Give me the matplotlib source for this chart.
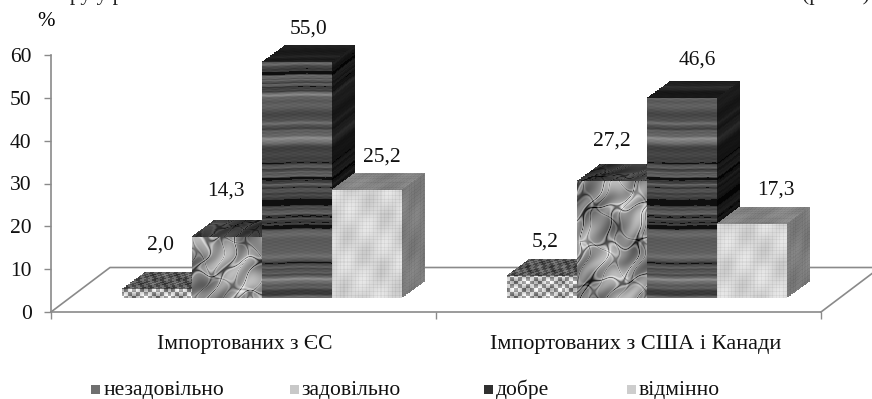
import numpy as np
import matplotlib
matplotlib.use('Agg')
import matplotlib.pyplot as plt
from matplotlib.patches import Rectangle

plt.rcParams['font.family'] = ['Liberation Serif', 'DejaVu Serif']

categories = ['Імпортованих з ЄС', 'Імпортованих з США і Канади']
grades = ['незадовільно', 'задовільно', 'добре', 'відмінно']
eu_values = [2.0, 14.3, 55.0, 25.2]
usa_values = [5.2, 27.2, 46.6, 17.3]
y_ticks = [0, 10, 20, 30, 40, 50, 60]
swatch_colors = ['#6f6f6f', '#c8c8c8', '#303030', '#cdcdcd']

# label offsets from the top back edge of each bar, in pixels
eu_label_off = [(-8, 27), (-12, 29), (0, 16), (4, 16)]
usa_label_off = [(-8, 17), (-11, 23), (4, 21), (13, 17)]
legend_swatch_x = [91, 290, 484, 627]
legend_text_x = [104, 301, 496, 639]

W, H = 872, 399
X0, X1, Y0, Y60 = 51, 821, 312, 55
XPX = (X1 - X0) / 2.0
YPX = (Y0 - Y60) / 60.0
GRAY = '#8a8a8a'

BAR_W = 70 / XPX
DX, DY = 23 / XPX, 17 / YPX        # depth of a bar
BASE = 14 / YPX                    # front edge of the bars above the floor edge
FLOOR_DX, FLOOR_DY = 59 / XPX, 44.5 / YPX


def wave(a, f, p=0.0):
    return np.sin(a * f + p)


def wood(x, y, shade=1.0):
    r = y + 0.5 * wave(x, 0.04) + 0.3 * wave(x, 0.11, 1.0)
    r = r + 9 * wave(r, 0.053) + 4 * wave(r, 0.137, 0.9)
    v = (wave(r, 0.23) + 0.9 * wave(r, 0.41, 1.3) + 0.7 * wave(r, 0.79, 0.4) + 0.3 * wave(r, 1.7, 2.0))
    v = 0.31 + 0.07 * v + 0.06 * wave(y, 0.037, 1.0) + 0.02 * wave(x, 0.5) * wave(y, 1.9)
    v = np.where(v < 0.2, 0.06, v)
    return np.clip(v * shade, 0, 1)


def crumple(x, y, shade=1.0):
    u = x + 5 * wave(y, 0.08, 0.7) + 2 * wave(y, 0.21)
    t = y + 5 * wave(x, 0.10, 1.9) + 2 * wave(x, 0.25, 0.5)
    f = np.abs(wave(u + 0.5 * t, 0.09) + wave(u - t, 0.13, 1.1))
    g = np.abs(wave(0.6 * u - t, 0.11, 2.1) + wave(u + 0.2 * t, 0.17, 0.3))
    v = 0.55 + 0.1 * wave(u + t, 0.07) + 0.09 * wave(u - t, 0.19)
    v = v - 0.3 * np.exp(-(f / 0.07) ** 2) + 0.14 * np.exp(-((f - 0.2) / 0.12) ** 2)
    v = v - 0.16 * np.exp(-(g / 0.06) ** 2) + 0.08 * np.exp(-((g - 0.18) / 0.1) ** 2)
    return np.clip(v * shade, 0, 1)


def canvas(x, y, shade=1.0):
    v = 0.85 - 0.04 * (wave(x, 1.7) > 0.6) - 0.04 * (wave(y, 1.7) > 0.6)
    v = v + 0.03 * wave(x + y, 0.11) + 0.025 * wave(x - 0.6 * y, 0.23, 1.0)
    return np.clip(v * shade, 0, 1)


def weave(x, y, shade=1.0):
    v = 0.68 + 0.16 * np.sign(wave(x, 0.8)) * np.sign(wave(y, 0.8, 0.6)) + 0.16 * wave(x, 0.27) * wave(y, 0.43)
    return np.clip(v * shade, 0, 1)


textures = [weave, crumple, wood, canvas]
top_shade = [0.5, 0.4, 0.35, 0.62]
side_shade = [0.55, 0.55, 0.3, 0.58]


def face(ax, tex, shade, origin, ex, ey, z):
    # one textured parallelogram, spanned by ex and ey from origin
    nx = max(2, int(round(np.hypot(ex[0] * XPX, ex[1] * YPX))))
    ny = max(2, int(round(np.hypot(ey[0] * XPX, ey[1] * YPX))))
    s, t = np.meshgrid(np.linspace(0, 1, nx + 1), np.linspace(0, 1, ny + 1))
    xx = origin[0] + s * ex[0] + t * ey[0]
    yy = origin[1] + s * ex[1] + t * ey[1]
    px, py = np.meshgrid(np.arange(nx) + origin[0] * 97, np.arange(ny) + origin[1] * 3)
    ax.pcolormesh(xx, yy, tex(px, py, shade), cmap='gray', vmin=0, vmax=1,
                  shading='flat', antialiased=False, linewidth=0, zorder=z, clip_on=False)


def bar3d(ax, x, value, i, z):
    tex = textures[i]
    face(ax, tex, 1.0, (x, BASE), (BAR_W, 0), (0, value), z)
    face(ax, tex, top_shade[i], (x, BASE + value), (BAR_W, 0), (DX, DY), z)
    face(ax, tex, side_shade[i], (x + BAR_W, BASE), (DX, DY), (0, value), z)


fig = plt.figure(figsize=(W / 100, H / 100), dpi=100)
ax = fig.add_axes([X0 / W, (H - Y0) / H, (X1 - X0) / W, (Y0 - Y60) / H])
ax.set_xlim(0, 2)
ax.set_ylim(0, 60)

# floor of the chart, it runs off the right edge
back = FLOOR_DY
ax.plot([0, FLOOR_DX, 2 + FLOOR_DX, 2], [0, back, back, 0], color=GRAY, lw=1.2,
        clip_on=False, zorder=0.5)

# bars
group_start = [(121.7 - X0) / XPX, 1 + (506.7 - 436) / XPX]
for g, values in enumerate([eu_values, usa_values]):
    offs = [eu_label_off, usa_label_off][g]
    for i, v in enumerate(values):
        x = group_start[g] + i * BAR_W
        bar3d(ax, x, v, i, 2 + g * 10 + i)
        ax.annotate(f'{v:.1f}'.replace('.', ','), (x + (BAR_W + DX) / 2, BASE + v + DY),
                    xytext=(offs[i][0] * 0.72, offs[i][1] * 0.72), textcoords='offset points',
                    ha='center', va='center', fontsize=15.5, color='#111111',
                    annotation_clip=False, zorder=40)

for name in ['top', 'right']:
    ax.spines[name].set_visible(False)
for name in ['left', 'bottom']:
    ax.spines[name].set_color(GRAY)
    ax.spines[name].set_linewidth(1.2)
ax.patch.set_alpha(0)

ax.set_yticks(y_ticks)
ax.set_xticks([0, 1, 2])
ax.set_xticklabels([])
ax.tick_params(axis='both', length=5, width=1.0, color=GRAY)
ax.tick_params(axis='y', labelsize=15.5, pad=9, labelcolor='#111111')

# category labels sit under each group
ax.annotate(categories[0], (0.5, 0), xytext=(1 * 0.72, -33 * 0.72), textcoords='offset points',
            ha='center', va='center', fontsize=15.5, color='#111111', annotation_clip=False)
ax.annotate(categories[1], (1.5, 0), xytext=(7 * 0.72, -33 * 0.72), textcoords='offset points',
            ha='center', va='center', fontsize=16, color='#111111', annotation_clip=False)

ax.annotate('%', (0, 60), xytext=(-5 * 0.72, 34 * 0.72), textcoords='offset points',
            ha='center', va='center', fontsize=15, annotation_clip=False)

# legend row along the bottom
for sx, tx, c, name in zip(legend_swatch_x, legend_text_x, swatch_colors, grades):
    fig.add_artist(Rectangle((sx / W, 1 - 394 / H), 9 / W, 9 / H, facecolor=c, edgecolor='none',
                             transform=fig.transFigure))
    fig.text(tx / W, 1 - 390 / H, name, fontsize=15.5, va='center', ha='left', color='#111111')

# tail of the preceding line of text, cut by the top edge
fig.text(59 / W, 1, 'ору у р', fontsize=15.5, va='baseline', ha='left', color='#222222')
fig.text(802 / W, 1, '(рис. 5)', fontsize=15.5, va='baseline', ha='left', color='#222222')

fig.savefig('out.png', dpi=100)
